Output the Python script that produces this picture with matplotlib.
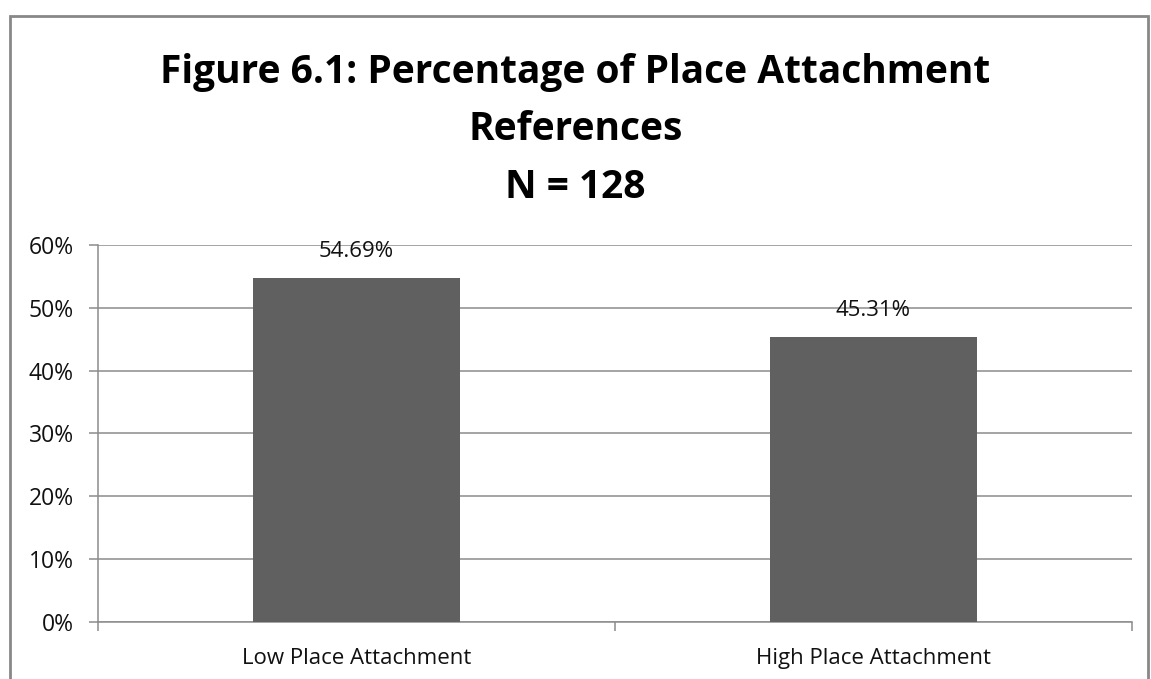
import matplotlib.pyplot as plt
from matplotlib.patches import Rectangle
from matplotlib.ticker import MultipleLocator, FuncFormatter

# dados do gráfico
categorias = ["Low Place Attachment", "High Place Attachment"]
percentuais = [54.69, 45.31]
linhas_titulo = ["Figure 6.1: Percentage of Place Attachment", "References", "N = 128"]

plt.rcParams['font.family'] = ['Open Sans', 'DejaVu Sans']

fig = plt.figure(figsize=(11.51, 6.79), dpi=100)
ax = fig.add_axes([0.0851, 0.0840, 0.8984, 0.5552])

cinza = '#8c8c8c'
x = range(len(categorias))
ax.bar(x, percentuais, width=0.4, color='#606060', zorder=3)

# rótulos com o valor de cada barra
for xi, v in zip(x, percentuais):
    ax.text(xi, v + 4.2, f"{v:.2f}%", ha='center', va='center', fontsize=16, color='#111111')

ax.set_xlim(-0.5, len(categorias) - 0.5)
ax.set_ylim(0, 60)
ax.yaxis.set_major_locator(MultipleLocator(10))
ax.yaxis.set_major_formatter(FuncFormatter(lambda v, p: f"{v:.0f}%"))
ax.grid(axis='y', color=cinza, linewidth=1.1, zorder=0)

ax.set_xticks(list(x))
ax.set_xticklabels(categorias)
ax.set_xticks([-0.5, 0.5, 1.5], minor=True)
ax.tick_params(axis='x', which='major', length=0, pad=19, labelsize=16, labelcolor='#111111')
ax.tick_params(axis='x', which='minor', length=6.5, width=1.1, color=cinza, direction='out')
ax.tick_params(axis='y', length=6.5, width=1.1, color=cinza, labelsize=16.5, pad=11,
               labelcolor='#111111')

for lado in ['top', 'right']:
    ax.spines[lado].set_visible(False)
for lado in ['left', 'bottom']:
    ax.spines[lado].set_color(cinza)
    ax.spines[lado].set_linewidth(1.1)

# título em três linhas, cada uma na sua linha de base
for yb, linha in zip([0.8778, 0.7938, 0.7084], linhas_titulo):
    fig.text(0.5, yb, linha, ha='center', va='baseline', fontsize=28, fontweight='bold')

# moldura do gráfico
fig.add_artist(Rectangle((10 / 1151, -0.05), 1138 / 1151, 1 - 16 / 679 + 0.05,
                         transform=fig.transFigure, fill=False,
                         edgecolor='#888888', linewidth=2))

fig.savefig('out.png', dpi=100)
